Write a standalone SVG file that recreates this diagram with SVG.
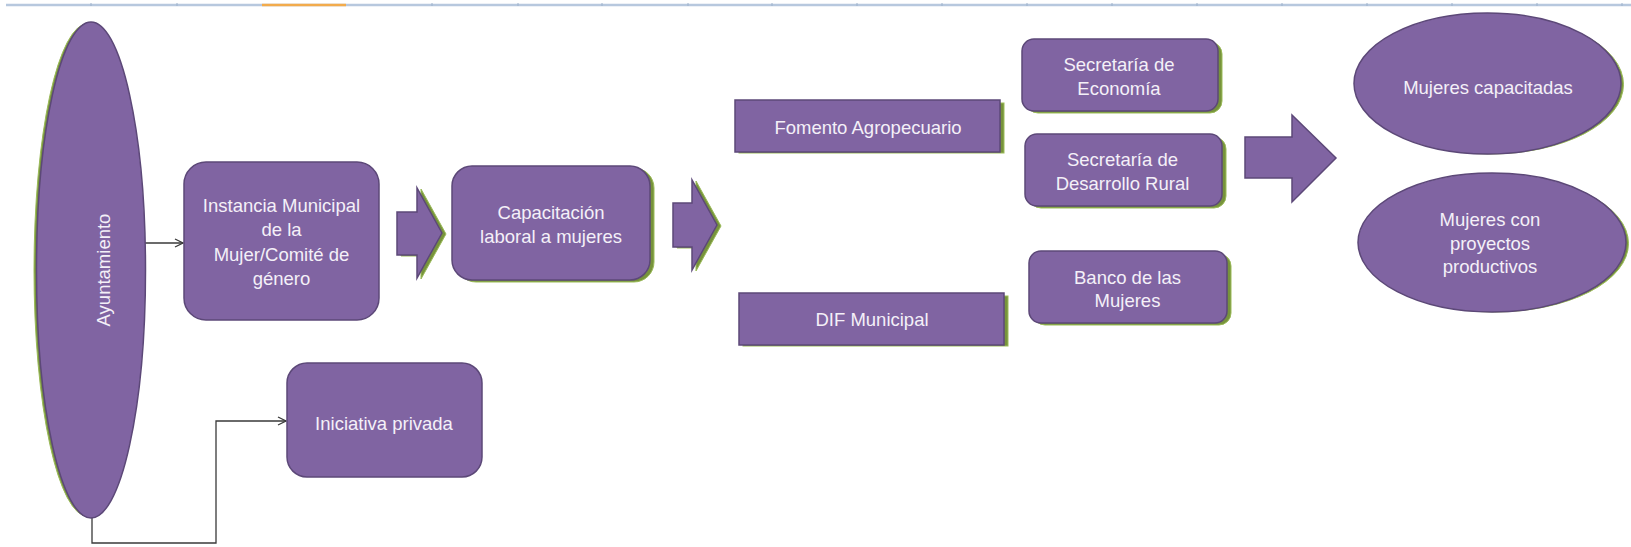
<svg xmlns="http://www.w3.org/2000/svg" width="1631" height="547" viewBox="0 0 1631 547">
<defs>
<style>
.shape{fill:#8064a2;stroke:#5c4878;stroke-width:1.5}
.shadow{fill:#77933c;stroke:#9bbb59;stroke-width:1}
.t{font-family:"Liberation Sans",Arial,sans-serif;font-size:18.5px;fill:#f4f0f8;text-anchor:middle}
.conn{fill:none;stroke:#3a3a3a;stroke-width:1.3}
.tick{stroke:#9db2cc;stroke-width:1}
</style>
<marker id="open" markerWidth="10" markerHeight="10" refX="9" refY="5" orient="auto" markerUnits="userSpaceOnUse">
<path d="M1,1 L9,5 L1,9" fill="none" stroke="#3a3a3a" stroke-width="1.3"/>
</marker>
</defs>
<rect width="1631" height="547" fill="#ffffff"/>
<g id="topbar">
<line x1="6" y1="5" x2="1631" y2="5" stroke="#b7c8de" stroke-width="2.5"/>
<line x1="262" y1="5" x2="346" y2="5" stroke="#f2ab4c" stroke-width="2.5"/>
<g class="tick">
<line x1="91" y1="3" x2="91" y2="6"/><line x1="177" y1="3" x2="177" y2="6"/><line x1="432" y1="3" x2="432" y2="6"/><line x1="518" y1="3" x2="518" y2="6"/><line x1="602" y1="3" x2="602" y2="6"/><line x1="688" y1="3" x2="688" y2="6"/><line x1="772" y1="3" x2="772" y2="6"/><line x1="857" y1="3" x2="857" y2="6"/><line x1="942" y1="3" x2="942" y2="6"/><line x1="1027" y1="3" x2="1027" y2="6"/><line x1="1112" y1="3" x2="1112" y2="6"/><line x1="1197" y1="3" x2="1197" y2="6"/><line x1="1282" y1="3" x2="1282" y2="6"/><line x1="1367" y1="3" x2="1367" y2="6"/><line x1="1452" y1="3" x2="1452" y2="6"/><line x1="1537" y1="3" x2="1537" y2="6"/><line x1="1622" y1="3" x2="1622" y2="6"/>
</g>
</g>
<g id="connectors">
<line class="conn" x1="145" y1="243" x2="183" y2="243" marker-end="url(#open)"/>
<path class="conn" d="M92,518 V543 H216 V421 H286" marker-end="url(#open)"/>
</g>
<g id="ayuntamiento">
<ellipse class="shadow" cx="88" cy="270" rx="54" ry="246.5"/>
<ellipse class="shape" cx="91" cy="270" rx="54.5" ry="248"/>
<text class="t" transform="translate(110,270) rotate(-90)">Ayuntamiento</text>
</g>
<g id="instancia">
<rect class="shape" x="184" y="162" width="195" height="158" rx="22"/>
<text class="t" x="281.5" y="211.5">Instancia Municipal</text>
<text class="t" x="281.5" y="236">de la</text>
<text class="t" x="281.5" y="260.5">Mujer/Comité de</text>
<text class="t" x="281.5" y="285">género</text>
</g>
<g id="iniciativa">
<rect class="shape" x="287" y="363" width="195" height="114" rx="20"/>
<text class="t" x="384" y="429.5">Iniciativa privada</text>
</g>
<g id="arrow1">
<polygon class="shadow" points="401,213 421,213 421,189 446,234 421,279 421,256 401,256"/>
<polygon class="shape" points="397,212 417,212 417,188 442,233 417,278 417,255 397,255"/>
</g>
<g id="capacitacion">
<rect class="shadow" x="456" y="168" width="198" height="114" rx="20"/>
<rect class="shape" x="452" y="166" width="198" height="114" rx="20"/>
<text class="t" x="551" y="219">Capacitación</text>
<text class="t" x="551" y="243">laboral a mujeres</text>
</g>
<g id="arrow2">
<polygon class="shadow" points="677,204 696,204 696,181 721,226 696,271 696,248 677,248"/>
<polygon class="shape" points="673,203 692,203 692,180 717,225 692,270 692,247 673,247"/>
</g>
<g id="fomento">
<rect class="shadow" x="739" y="103" width="265" height="50"/>
<rect class="shape" x="735" y="100" width="265" height="52"/>
<text class="t" x="868" y="133.5">Fomento Agropecuario</text>
</g>
<g id="dif">
<rect class="shadow" x="743" y="296" width="265" height="50"/>
<rect class="shape" x="739" y="293" width="265" height="52"/>
<text class="t" x="872" y="325.5">DIF Municipal</text>
</g>
<g id="sec-economia">
<rect class="shadow" x="1026" y="42" width="196" height="71" rx="12"/>
<rect class="shape" x="1022" y="39" width="196" height="72" rx="12"/>
<text class="t" x="1119" y="70.5">Secretaría de</text>
<text class="t" x="1119" y="94.5">Economía</text>
</g>
<g id="sec-desarrollo">
<rect class="shadow" x="1029" y="137" width="197" height="71" rx="12"/>
<rect class="shape" x="1025" y="134" width="197" height="72" rx="12"/>
<text class="t" x="1122.5" y="165.5">Secretaría de</text>
<text class="t" x="1122.5" y="189.5">Desarrollo Rural</text>
</g>
<g id="banco">
<rect class="shadow" x="1033" y="254" width="198" height="71" rx="12"/>
<rect class="shape" x="1029" y="251" width="198" height="72" rx="12"/>
<text class="t" x="1127.5" y="283.5">Banco de las</text>
<text class="t" x="1127.5" y="306.5">Mujeres</text>
</g>
<g id="arrow3">
<polygon class="shape" points="1245,137 1292,137 1292,115 1336,158 1292,202 1292,178 1245,178"/>
</g>
<g id="mujeres-capacitadas">
<ellipse class="shadow" cx="1490" cy="84.5" rx="133.5" ry="69.5"/>
<ellipse class="shape" cx="1487.5" cy="83.5" rx="133.5" ry="70.5"/>
<text class="t" x="1488" y="93.5">Mujeres capacitadas</text>
</g>
<g id="mujeres-proyectos">
<ellipse class="shadow" cx="1494.5" cy="243.5" rx="134" ry="68.5"/>
<ellipse class="shape" cx="1492" cy="242.5" rx="134" ry="69.5"/>
<text class="t" x="1490" y="225.5">Mujeres con</text>
<text class="t" x="1490" y="249.5">proyectos</text>
<text class="t" x="1490" y="272.5">productivos</text>
</g>
</svg>
